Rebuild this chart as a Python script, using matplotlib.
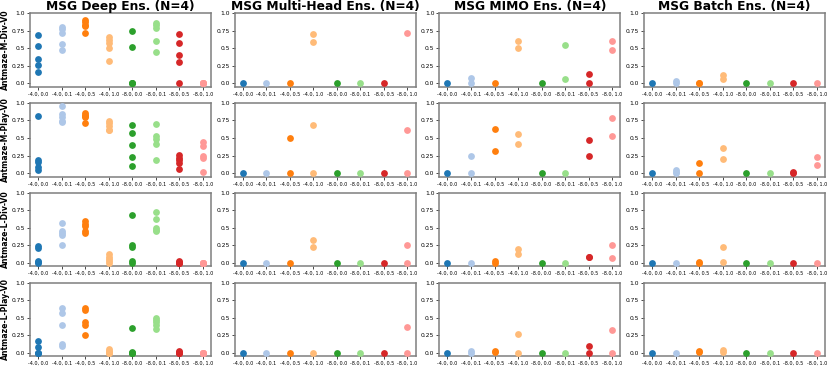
import matplotlib
matplotlib.use("Agg")
import matplotlib.pyplot as plt

# hyperparameter settings on the x axis
categories = ["-4.0, 0.0", "-4.0, 0.1", "-4.0, 0.5", "-4.0, 1.0",
              "-8.0, 0.0", "-8.0, 0.1", "-8.0, 0.5", "-8.0, 1.0"]
envs = ["Antmaze-M-Div-V0", "Antmaze-M-Play-V0", "Antmaze-L-Div-V0", "Antmaze-L-Play-V0"]
methods = ["MSG Deep Ens. (N=4)", "MSG Multi-Head Ens. (N=4)",
           "MSG MIMO Ens. (N=4)", "MSG Batch Ens. (N=4)"]
colors = ["#1f77b4", "#aec7e8", "#ff7f0e", "#ffbb78",
          "#2ca02c", "#98df8a", "#d62728", "#ff9896"]

# seed results, [env][category] -> list of scores
deep_ens = [
    [[0.69, 0.53, 0.35, 0.26, 0.16], [0.80, 0.77, 0.72, 0.56, 0.47],
     [0.90, 0.87, 0.83, 0.82, 0.72], [0.66, 0.62, 0.57, 0.51, 0.32],
     [0.74, 0.52, 0.0, 0.0, 0.0], [0.86, 0.83, 0.79, 0.61, 0.44],
     [0.70, 0.58, 0.41, 0.31, 0.0], [0.0, 0.0, 0.0, 0.0, 0.0]],
    [[0.82, 0.19, 0.16, 0.09, 0.04], [0.95, 0.84, 0.80, 0.74, 0.73],
     [0.86, 0.83, 0.81, 0.80, 0.71], [0.74, 0.71, 0.67, 0.62, 0.61],
     [0.68, 0.57, 0.40, 0.23, 0.10], [0.70, 0.53, 0.49, 0.42, 0.19],
     [0.26, 0.22, 0.18, 0.15, 0.06], [0.44, 0.38, 0.24, 0.21, 0.02]],
    [[0.24, 0.21, 0.03, 0.01, 0.0], [0.57, 0.46, 0.43, 0.40, 0.26],
     [0.60, 0.56, 0.52, 0.45, 0.43], [0.12, 0.08, 0.05, 0.02, 0.0],
     [0.68, 0.25, 0.22, 0.02, 0.0], [0.72, 0.62, 0.50, 0.47, 0.45],
     [0.02, 0.01, 0.0, 0.0, 0.0], [0.0, 0.0, 0.0, 0.0, 0.0]],
    [[0.16, 0.08, 0.0, 0.0, 0.0], [0.64, 0.57, 0.40, 0.12, 0.10],
     [0.64, 0.61, 0.43, 0.39, 0.25], [0.05, 0.03, 0.01, 0.0, 0.0],
     [0.35, 0.01, 0.0, 0.0, 0.0], [0.50, 0.46, 0.43, 0.39, 0.34],
     [0.02, 0.01, 0.0, 0.0, 0.0], [0.0, 0.0, 0.0, 0.0, 0.0]],
]
multi_head = [
    [[0.0], [0.0], [0.0], [0.71, 0.59], [0.0], [0.0], [0.0], [0.72]],
    [[0.0], [0.0], [0.50, 0.0], [0.68, 0.0], [0.0], [0.0], [0.0], [0.61, 0.0]],
    [[0.0], [0.0], [0.0], [0.33, 0.22], [0.0], [0.0], [0.0], [0.25, 0.0]],
    [[0.0], [0.0], [0.0], [0.0], [0.0], [0.0], [0.0], [0.37, 0.0]],
]
mimo = [
    [[0.0], [0.08, 0.0], [0.0], [0.60, 0.50], [0.0], [0.55, 0.06], [0.13, 0.0], [0.60, 0.47]],
    [[0.0], [0.24, 0.0], [0.63, 0.32], [0.56, 0.42], [0.0], [0.0], [0.47, 0.25], [0.79, 0.53]],
    [[0.0], [0.0], [0.02, 0.0], [0.20, 0.13], [0.0], [0.0], [0.09, 0.08], [0.25, 0.07]],
    [[0.0], [0.02, 0.0], [0.02, 0.01], [0.26, 0.0], [0.0], [0.0], [0.10, 0.0], [0.32, 0.0]],
]
batch_ens = [
    [[0.0], [0.03, 0.01], [0.01, 0.0], [0.12, 0.06], [0.0], [0.0], [0.0], [0.0]],
    [[0.0], [0.05, 0.02, 0.0], [0.14, 0.0], [0.36, 0.20], [0.0], [0.0], [0.02, 0.0], [0.23, 0.12]],
    [[0.0], [0.0], [0.01, 0.0], [0.23, 0.01], [0.0], [0.0], [0.0], [0.0]],
    [[0.0], [0.0], [0.02, 0.01], [0.04, 0.01], [0.0], [0.0], [0.0], [0.0]],
]
results = [deep_ens, multi_head, mimo, batch_ens]

fig, axs = plt.subplots(4, 4, figsize=(8.3, 3.66), dpi=100)
plt.subplots_adjust(left=0.036, right=0.994, top=0.964, bottom=0.027,
                    wspace=0.13, hspace=0.22)

for col in range(4):
    for row in range(4):
        ax = axs[row][col]
        for k in range(len(categories)):
            vals = results[col][row][k]
            ax.scatter([categories[k]] * len(vals), vals, s=24,
                       color=colors[k], zorder=3, linewidths=0)
        ax.set_ylim(-0.05, 1.0)
        ax.set_yticks([0.0, 0.25, 0.5, 0.75, 1.0])
        ax.set_yticklabels(["0.0", "0.25", "0.5", "0.75", "1.0"])
        ax.tick_params(axis="x", labelsize=3.5, length=2, width=0.5, pad=1.5)
        ax.tick_params(axis="y", labelsize=4.3, length=2, width=0.5, pad=1.5)
        for sp in ax.spines.values():
            sp.set_color("#7f7f7f")
            sp.set_linewidth(1.1)
        if row == 0:
            ax.set_title(methods[col], fontsize=8.8, fontweight="bold", pad=2)
        if col == 0:
            ax.set_ylabel(envs[row], fontsize=5.6, fontweight="bold", labelpad=1)

fig.savefig("out.png", dpi=100)
